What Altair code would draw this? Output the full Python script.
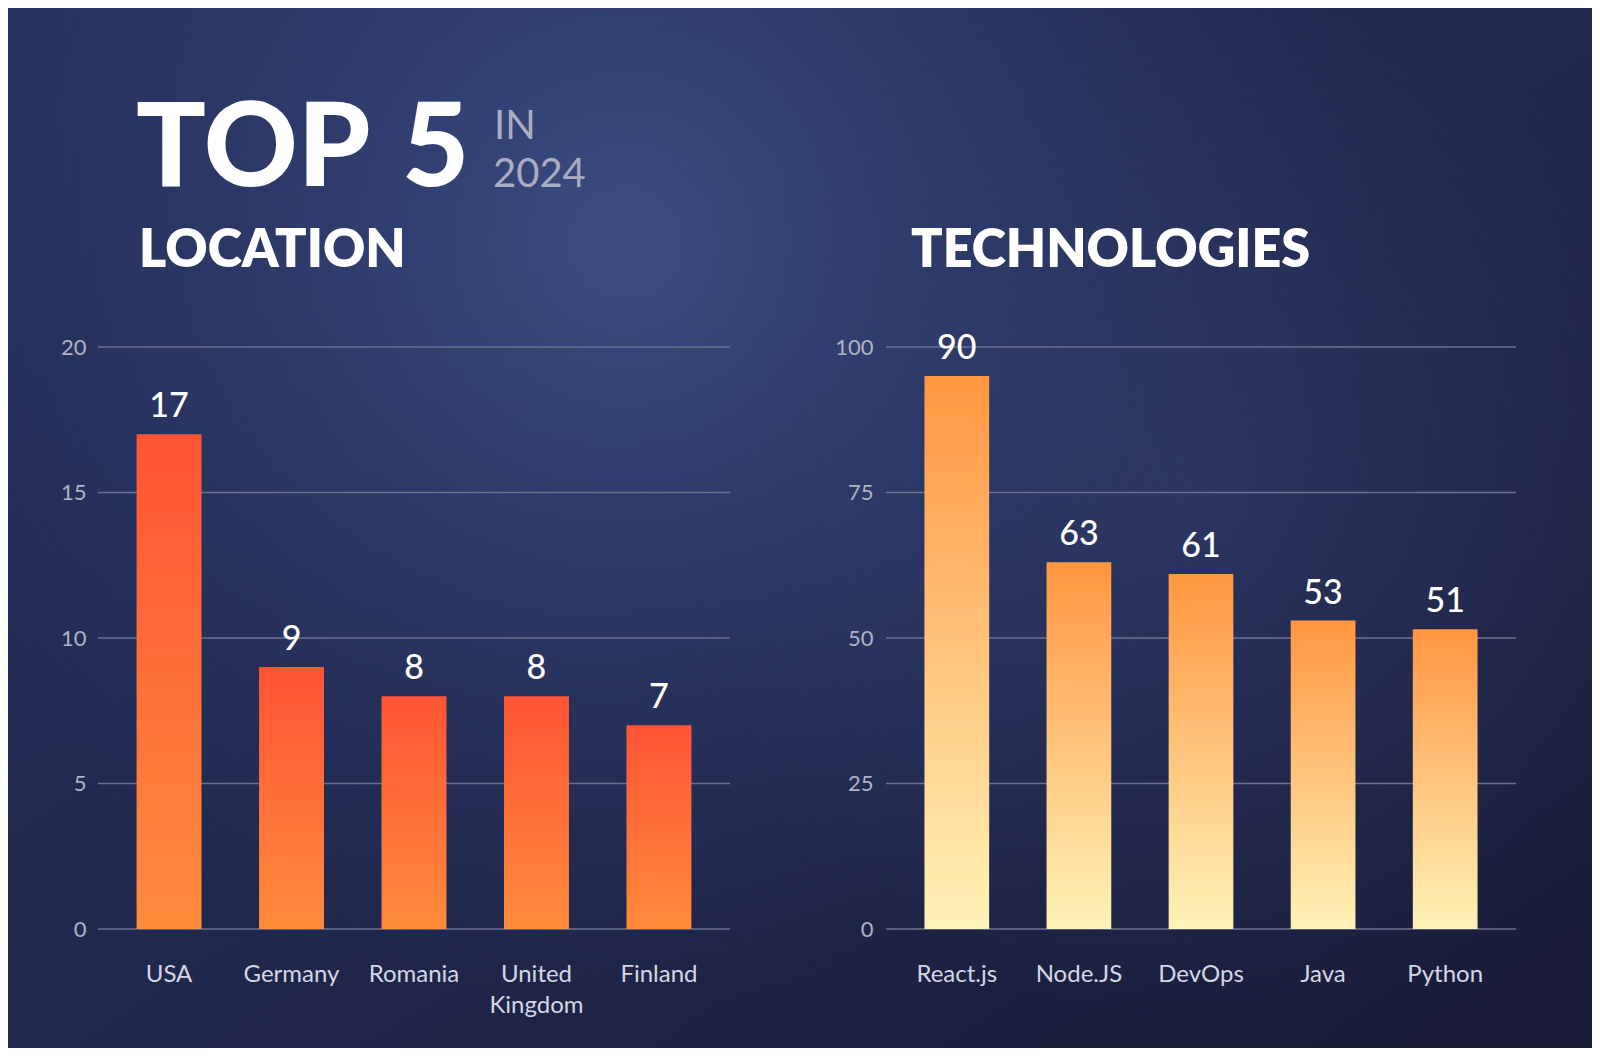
import altair as alt
import pandas as pd

# ---------------- data ----------------
countries = ["USA", "Germany", "Romania", "United Kingdom", "Finland"]
country_counts = [17, 9, 8, 8, 7]
country_ticks = [0, 5, 10, 15, 20]

technologies = ["React.js", "Node.JS", "DevOps", "Java", "Python"]
tech_bar_values = [95, 63, 61, 53, 51.5]
tech_labels = ["90", "63", "61", "53", "51"]
tech_ticks = [0, 25, 50, 75, 100]

W, H = 1584, 1040
FONT = "Lato"

loc_df = pd.DataFrame({"country": countries, "count": country_counts,
                       "label": [str(v) for v in country_counts]})
tech_df = pd.DataFrame({"tech": technologies, "value": tech_bar_values, "label": tech_labels})
loc_ticks_df = pd.DataFrame({"tick": country_ticks})
tech_ticks_df = pd.DataFrame({"tick": tech_ticks})
one = pd.DataFrame({"a": [0]})


def y_axis(offset, pad, values):
    return alt.Axis(orient="left", offset=offset, values=values, grid=False, domain=False,
                    ticks=False, tickSize=0, labelPadding=pad, labelFont=FONT,
                    labelFontSize=22, labelColor="#aeb3c6", title=None, zindex=2)


def x_axis(offset):
    return alt.Axis(orient="bottom", offset=offset, grid=False, domain=False, ticks=False,
                    tickSize=0, labelPadding=33, labelAngle=0, labelFont=FONT,
                    labelFontSize=24, labelColor="#d4d7e3",
                    labelExpr="split(datum.label, ' ')", labelLineHeight=31,
                    labelOverlap=False, title=None, zindex=2)


def grad(top, bottom):
    return alt.LinearGradient(gradient="linear", x1=0, x2=0, y1=0, y2=1,
                              stops=[alt.GradientStop(color=top, offset=0),
                                     alt.GradientStop(color=bottom, offset=1)])


def panel(df, cat, val, cats, ticks_df, ymax, xr, yaxis, xaxis, top, bottom):
    ys = alt.Scale(domain=[0, ymax], range=[921, 339], nice=False, zero=True)
    xs = alt.Scale(domain=cats, range=xr, paddingInner=0.47, paddingOuter=0.315)
    grid = alt.Chart(ticks_df).mark_rule(color="#6b7191", strokeWidth=1.5).encode(
        y=alt.Y("tick:Q", scale=ys, axis=yaxis),
        x=alt.value(xr[0]), x2=alt.value(xr[1]))
    bars = alt.Chart(df).mark_bar(fill=grad(top, bottom), strokeWidth=0).encode(
        x=alt.X(f"{cat}:N", scale=xs, axis=xaxis),
        y=alt.Y(f"{val}:Q", scale=ys, axis=yaxis))
    text = alt.Chart(df).mark_text(font=FONT, fontSize=34, fontWeight=500, color="white",
                                   baseline="alphabetic", dy=-17).encode(
        x=alt.X(f"{cat}:N", scale=xs, axis=xaxis),
        y=alt.Y(f"{val}:Q", scale=ys, axis=yaxis),
        text="label:N")
    return alt.layer(grid, bars, text)


left = panel(loc_df, "country", "count", countries, loc_ticks_df, 20,
             [90, 722], y_axis(-90, 12, country_ticks), x_axis(-119), "#ff5434", "#ff8b3c")
right = panel(tech_df, "tech", "value", technologies, tech_ticks_df, 100,
              [878, 1508], y_axis(-878, 13, tech_ticks), x_axis(-119), "#ff9640", "#fff3b8")

# ---------------- background ----------------
bg_base = alt.Chart(one).mark_rect(fill=alt.LinearGradient(
    gradient="linear", x1=0, y1=0, x2=1, y2=1,
    stops=[alt.GradientStop(color="#273160", offset=0),
           alt.GradientStop(color="#20284d", offset=0.5),
           alt.GradientStop(color="#191b37", offset=1)])).encode(
    x=alt.value(0), x2=alt.value(W), y=alt.value(0), y2=alt.value(H))

bg_glow = alt.Chart(one).mark_rect(fill=alt.RadialGradient(
    gradient="radial", x1=0.39, y1=0.32, r1=0, x2=0.39, y2=0.32, r2=0.48,
    stops=[alt.GradientStop(color="rgba(60,78,132,1)", offset=0),
           alt.GradientStop(color="rgba(52,68,120,0.55)", offset=0.45),
           alt.GradientStop(color="rgba(45,58,105,0)", offset=1)])).encode(
    x=alt.value(0), x2=alt.value(W), y=alt.value(0), y2=alt.value(H))

bg_glow2 = alt.Chart(one).mark_rect(fill=alt.RadialGradient(
    gradient="radial", x1=0.75, y1=0.48, r1=0, x2=0.75, y2=0.48, r2=0.33,
    stops=[alt.GradientStop(color="rgba(52,64,112,0.55)", offset=0),
           alt.GradientStop(color="rgba(52,64,112,0)", offset=1)])).encode(
    x=alt.value(0), x2=alt.value(W), y=alt.value(0), y2=alt.value(H))


# ---------------- titles ----------------
def title(txt, x, y, size, weight, color):
    d = pd.DataFrame({"t": [txt]})
    return alt.Chart(d).mark_text(font=FONT, fontSize=size, fontWeight=weight, color=color,
                                  align="left", baseline="alphabetic").encode(
        text="t:N", x=alt.value(x), y=alt.value(y))


t_top5 = title("TOP \u200a5", 128, 178, 116, 900, "#ffffff")
t_in = title("IN", 486, 131, 40, 400, "#a9adc2")
t_2024 = title("2024", 485, 179, 40, 400, "#a9adc2")
t_loc = title("LOCATION", 131, 259, 52, 800, "#ffffff")
t_tech = title("TECHNOLOGIES", 903, 259, 52, 800, "#ffffff")

chart = alt.layer(bg_base, bg_glow, bg_glow2, left, right,
                  t_top5, t_in, t_2024, t_loc, t_tech).resolve_scale(
    x="independent", y="independent").properties(
    width=W, height=H, padding=0, autosize=alt.AutoSizeParams(type="none"),
    background="#222a50").configure_view(stroke=None)

chart.save("out.html", embed_options={"renderer": "svg", "actions": False})
